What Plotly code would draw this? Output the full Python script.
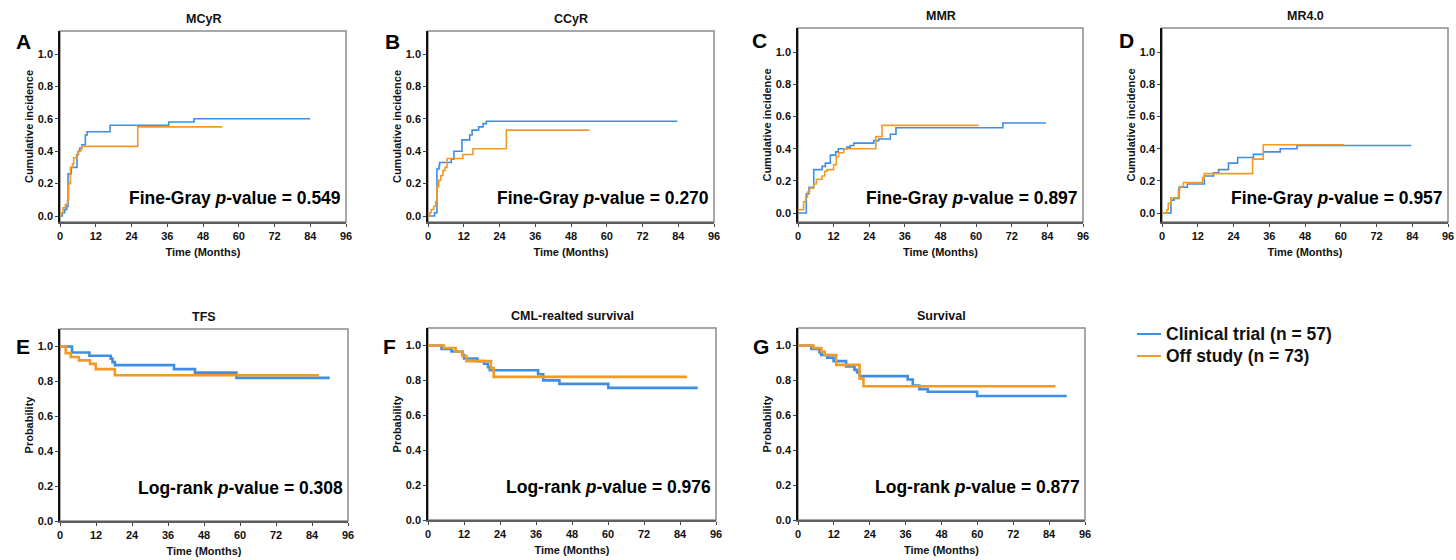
import plotly.graph_objects as go

# ---------------- data (months, cumulative incidence / probability) ----------------
# A: MCyR
mcyr_trial_t = [0, 0.8, 1.6, 2.3, 2.7, 3.8, 5.7, 6.2, 6.6, 7.3, 8.5, 9.1, 16.8, 36.5, 45.0, 84.0]
mcyr_trial_v = [0, 0.02, 0.04, 0.06, 0.26, 0.30, 0.38, 0.40, 0.42, 0.44, 0.50, 0.52, 0.56, 0.58, 0.60, 0.60]
mcyr_off_t = [0, 0.45, 1.0, 1.8, 2.5, 2.9, 3.5, 4.2, 4.6, 5.5, 6.0, 6.9, 7.3, 26.1, 54.5]
mcyr_off_v = [0, 0.02, 0.05, 0.07, 0.10, 0.20, 0.30, 0.32, 0.36, 0.38, 0.40, 0.41, 0.43, 0.55, 0.55]

# B: CCyR
ccyr_trial_t = [0, 2.2, 3.0, 3.7, 3.9, 7.8, 8.7, 11.4, 14.0, 14.8, 17.0, 18.5, 19.6, 83.7]
ccyr_trial_v = [0, 0.02, 0.29, 0.31, 0.33, 0.35, 0.40, 0.47, 0.50, 0.53, 0.55, 0.57, 0.585, 0.585]
ccyr_off_t = [0, 0.6, 1.1, 1.9, 2.6, 3.0, 3.6, 4.3, 5.0, 5.7, 6.4, 11.7, 15.1, 26.3, 54.2]
ccyr_off_v = [0, 0.02, 0.04, 0.06, 0.09, 0.18, 0.22, 0.25, 0.28, 0.30, 0.355, 0.38, 0.415, 0.53, 0.53]

# C: MMR
mmr_trial_t = [0, 2.8, 3.7, 5.3, 8.1, 9.2, 10.9, 12.7, 13.6, 16.5, 17.6, 18.8, 25.5, 27.2, 31.1, 33.0, 69.0, 83.5]
mmr_trial_v = [0, 0.12, 0.16, 0.27, 0.29, 0.31, 0.36, 0.38, 0.40, 0.41, 0.42, 0.435, 0.45, 0.46, 0.49, 0.53, 0.56, 0.56]
mmr_off_t = [0, 1.9, 2.6, 3.2, 3.9, 5.3, 6.2, 8.1, 9.0, 9.8, 12.0, 12.9, 13.7, 15.4, 26.2, 28.3, 60.9]
mmr_off_v = [0.02, 0.07, 0.10, 0.13, 0.155, 0.18, 0.21, 0.23, 0.26, 0.27, 0.30, 0.35, 0.375, 0.40, 0.475, 0.545, 0.545]

# D: MR4.0
mr4_trial_t = [0, 3.0, 4.0, 5.7, 8.5, 14.2, 17.3, 19.0, 22.3, 25.4, 30.7, 34.0, 39.7, 45.3, 83.7]
mr4_trial_v = [0, 0.08, 0.09, 0.16, 0.18, 0.23, 0.25, 0.27, 0.31, 0.345, 0.365, 0.38, 0.40, 0.42, 0.42]
mr4_off_t = [0, 1.6, 2.1, 3.0, 5.5, 6.0, 7.2, 13.6, 14.2, 30.4, 34.0, 61.2]
mr4_off_v = [0, 0.02, 0.06, 0.095, 0.14, 0.165, 0.19, 0.22, 0.245, 0.335, 0.425, 0.425]

# E: TFS
tfs_trial_t = [0, 4.0, 9.8, 16.9, 17.5, 18.3, 38.0, 45.0, 58.8, 89.9]
tfs_trial_v = [1.0, 0.965, 0.947, 0.93, 0.91, 0.893, 0.87, 0.85, 0.82, 0.82]
tfs_off_t = [0, 1.9, 3.6, 6.3, 10.0, 11.9, 18.3, 86.3]
tfs_off_v = [1.0, 0.962, 0.94, 0.92, 0.90, 0.87, 0.835, 0.835]

# F: CML-related survival
cml_trial_t = [0, 4.5, 7.8, 11.5, 12.0, 16.5, 18.7, 20.0, 20.6, 36.7, 38.4, 43.8, 60.1, 89.9]
cml_trial_v = [1.0, 0.98, 0.965, 0.945, 0.925, 0.91, 0.895, 0.875, 0.858, 0.835, 0.80, 0.78, 0.757, 0.757]
cml_off_t = [0, 5.3, 9.2, 11.5, 12.8, 21.0, 21.9, 86.3]
cml_off_v = [1.0, 0.985, 0.965, 0.94, 0.91, 0.87, 0.82, 0.82]

# G: Overall survival
os_trial_t = [0, 4.5, 7.2, 7.8, 9.8, 11.9, 16.1, 18.9, 19.8, 20.6, 36.7, 38.4, 40.6, 43.4, 59.9, 89.9]
os_trial_v = [1.0, 0.98, 0.96, 0.945, 0.93, 0.91, 0.88, 0.86, 0.845, 0.824, 0.805, 0.77, 0.75, 0.735, 0.71, 0.71]
os_off_t = [0, 5.2, 7.8, 8.9, 12.8, 20.6, 21.9, 86.1]
os_off_v = [1.0, 0.985, 0.965, 0.945, 0.889, 0.81, 0.766, 0.766]

panel_letters = ["A", "B", "C", "D", "E", "F", "G"]
panel_titles = ["MCyR", "CCyR", "MMR", "MR4.0", "TFS", "CML-realted survival", "Survival"]
p_labels = [
    "Fine-Gray <i>p</i>-value = 0.549",
    "Fine-Gray <i>p</i>-value = 0.270",
    "Fine-Gray <i>p</i>-value = 0.897",
    "Fine-Gray <i>p</i>-value = 0.957",
    "Log-rank <i>p</i>-value = 0.308",
    "Log-rank <i>p</i>-value = 0.976",
    "Log-rank <i>p</i>-value = 0.877",
]
x_ticks = [0, 12, 24, 36, 48, 60, 72, 84, 96]
y_ticks = [0.0, 0.2, 0.4, 0.6, 0.8, 1.0]
y_tick_text = ["0.0", "0.2", "0.4", "0.6", "0.8", "1.0"]
series_names = ["Clinical trial (n = 57)", "Off study (n = 73)"]

curves = [
    (mcyr_trial_t, mcyr_trial_v, mcyr_off_t, mcyr_off_v),
    (ccyr_trial_t, ccyr_trial_v, ccyr_off_t, ccyr_off_v),
    (mmr_trial_t, mmr_trial_v, mmr_off_t, mmr_off_v),
    (mr4_trial_t, mr4_trial_v, mr4_off_t, mr4_off_v),
    (tfs_trial_t, tfs_trial_v, tfs_off_t, tfs_off_v),
    (cml_trial_t, cml_trial_v, cml_off_t, cml_off_v),
    (os_trial_t, os_trial_v, os_off_t, os_off_v),
]

# ---------------- layout geometry (pixels) ----------------
W, H = 1456, 560
# left, right, top, bottom of each plot box; y range of each panel
boxes = [
    (60, 346, 31, 222), (428, 714, 31, 222), (798, 1083, 28, 222), (1162, 1448, 28, 222),
    (60, 348, 329, 521), (428, 716, 328, 520), (798, 1085, 328, 520),
]
y_ranges = [
    (-0.037, 1.142), (-0.037, 1.142), (-0.056, 1.151), (-0.056, 1.151),
    (0, 1.1), (0, 1.1), (0, 1.1),
]
letter_pos = [(23, 42), (392, 42), (759, 41), (1126, 41), (23, 346), (389, 346), (761, 346)]
y_titles = ["Cumulative incidence"] * 4 + ["Probability"] * 3

BLUE = "#3d8ee6"
ORANGE = "#f09a27"
FONT = "Liberation Sans, Arial, sans-serif"


def px_x(x):
    return x / W


def px_y(y):
    return 1 - y / H


fig = go.Figure()
annotations = []
shapes = []

for i, (l, r, t, b) in enumerate(boxes):
    n = i + 1
    xa = "xaxis" if n == 1 else f"xaxis{n}"
    ya = "yaxis" if n == 1 else f"yaxis{n}"
    xref = "x" if n == 1 else f"x{n}"
    yref = "y" if n == 1 else f"y{n}"
    lw = 1.6 if i < 4 else 2.6

    tt, tv, ot, ov = curves[i]
    fig.add_trace(go.Scatter(
        x=tt, y=tv, mode="lines", line=dict(color=BLUE, width=lw, shape="hv"),
        name=series_names[0], showlegend=False, xaxis=xref, yaxis=yref,
    ))
    fig.add_trace(go.Scatter(
        x=ot, y=ov, mode="lines", line=dict(color=ORANGE, width=lw, shape="hv"),
        name=series_names[1], showlegend=False, xaxis=xref, yaxis=yref,
    ))

    fig.update_layout({
        xa: dict(
            domain=[px_x(l), px_x(r)], range=[0, 96], anchor=yref,
            tickvals=x_ticks, ticks="outside", ticklen=3, tickwidth=1.2, tickcolor="#444",
            showline=True, linecolor="#5e5e5e", linewidth=2, showgrid=False, zeroline=False,
            tickfont=dict(family=FONT, size=11, color="#111", weight="bold"),
            title=dict(text="Time (Months)", standoff=7,
                       font=dict(family=FONT, size=11, color="#111", weight="bold")),
            automargin=False, fixedrange=True,
        ),
        ya: dict(
            domain=[px_y(b), px_y(t)], range=list(y_ranges[i]), anchor=xref,
            tickvals=y_ticks, ticktext=y_tick_text, ticks="outside", ticklen=3,
            tickwidth=1.2, tickcolor="#444",
            showline=True, linecolor="#111", linewidth=1.6, showgrid=False, zeroline=False,
            tickfont=dict(family=FONT, size=11, color="#111", weight="bold"),
            title=dict(text=y_titles[i], standoff=2,
                       font=dict(family=FONT, size=11, color="#111", weight="bold")),
            automargin=False, fixedrange=True,
        ),
    })

    # frame around the plotting box
    shapes.append(dict(
        type="rect", xref=f"{xref} domain", yref=f"{yref} domain",
        x0=0, x1=1, y0=0, y1=1, line=dict(color="#8c8c8c", width=1.5), layer="below",
    ))

    # panel title
    annotations.append(dict(
        x=px_x((l + r) / 2), y=px_y(t - 12), xref="paper", yref="paper",
        text=panel_titles[i], showarrow=False, xanchor="center", yanchor="middle",
        font=dict(family=FONT, size=12.5, color="#111", weight="bold"),
    ))
    # panel letter
    lx, ly = letter_pos[i]
    annotations.append(dict(
        x=px_x(lx), y=px_y(ly), xref="paper", yref="paper", text=panel_letters[i],
        showarrow=False, xanchor="center", yanchor="middle",
        font=dict(family=FONT, size=21, color="#000", weight="bold"),
    ))
    # test statistic
    annotations.append(dict(
        x=px_x(r - 3), y=px_y(b - 24 if i < 4 else b - 33), xref="paper", yref="paper",
        text=p_labels[i], showarrow=False, xanchor="right", yanchor="middle",
        font=dict(family=FONT, size=17.5, color="#000", weight="bold"),
    ))

# group key (shared by all panels)
legend_rows = [(series_names[0], BLUE, 334), (series_names[1], ORANGE, 356)]
for name, color, ry in legend_rows:
    shapes.append(dict(
        type="line", xref="paper", yref="paper",
        x0=px_x(1137), x1=px_x(1161), y0=px_y(ry), y1=px_y(ry),
        line=dict(color=color, width=2),
    ))
    annotations.append(dict(
        x=px_x(1164), y=px_y(ry), xref="paper", yref="paper", text=name,
        showarrow=False, xanchor="left", yanchor="middle",
        font=dict(family=FONT, size=17.5, color="#111", weight="bold"),
    ))

fig.update_layout(
    width=W, height=H, margin=dict(l=0, r=0, t=0, b=0),
    paper_bgcolor="white", plot_bgcolor="white", template="none",
    annotations=annotations, shapes=shapes, showlegend=False,
)

fig.write_html("out.html")
